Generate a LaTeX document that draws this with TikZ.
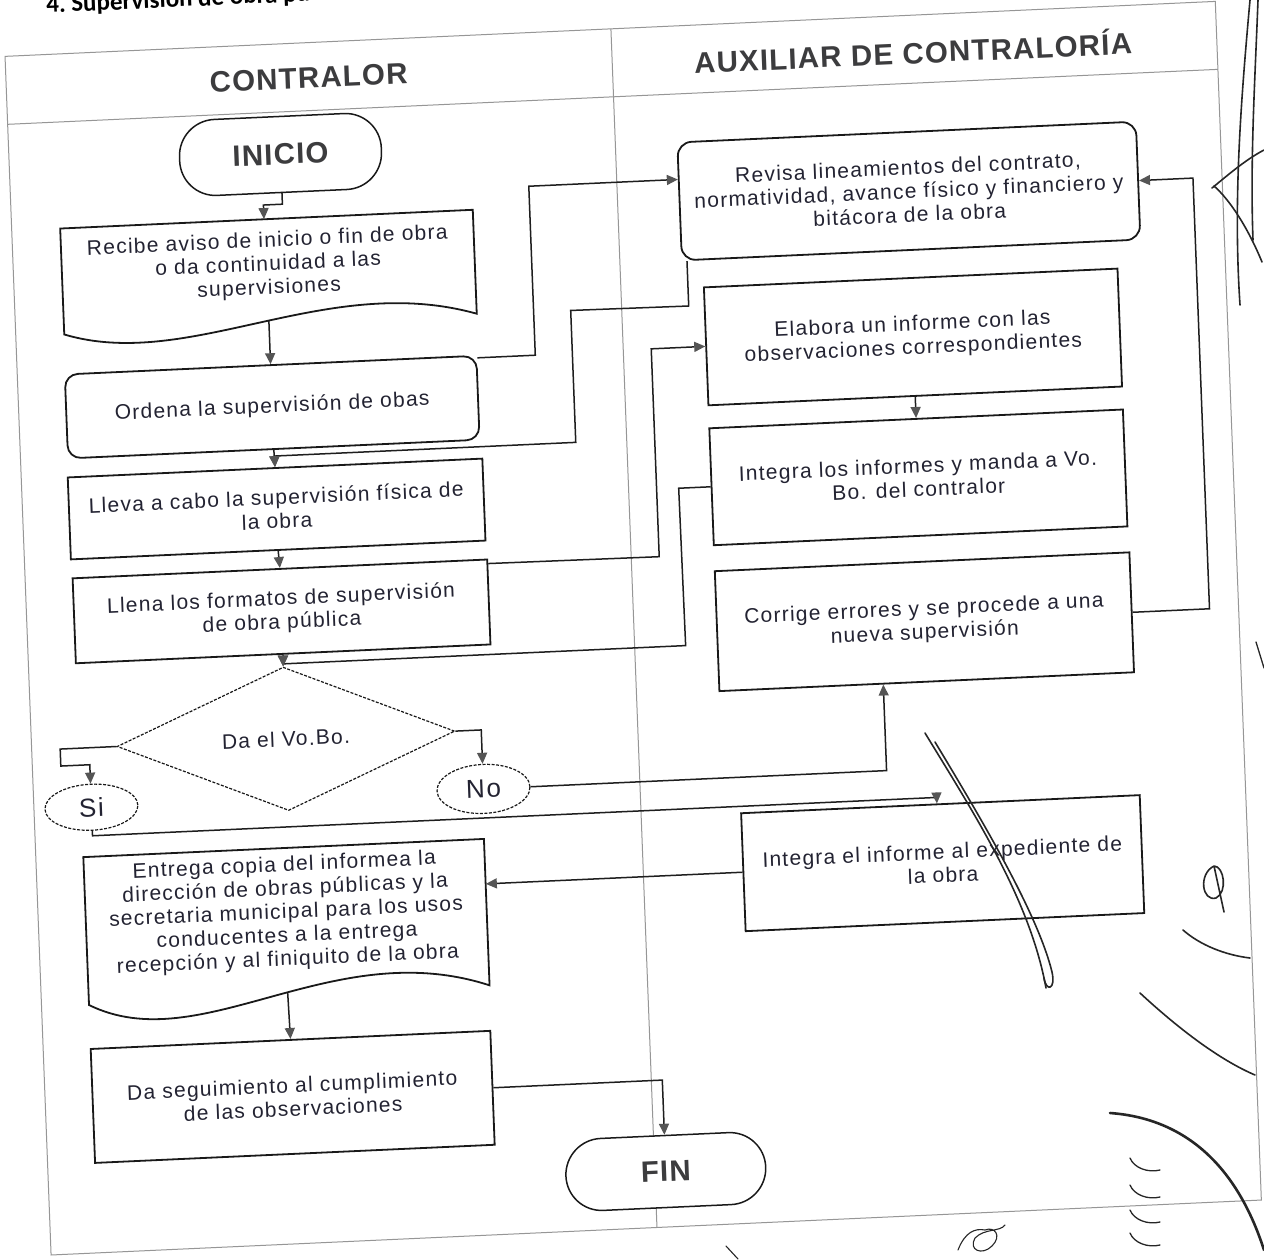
\documentclass[tikz,border=0pt]{standalone}
\usepackage{fontspec}
\setmainfont{Liberation Sans}
\newfontfamily\bodyfont[LetterSpace=6]{Liberation Sans}
\newfontfamily\headfont[LetterSpace=4]{Liberation Sans}
\newfontfamily\titlefont{Carlito}
\usetikzlibrary{shapes.geometric,arrows.meta,calc}

\definecolor{txt}{RGB}{35,35,50}
\definecolor{head}{RGB}{60,60,62}
\definecolor{boxline}{RGB}{25,25,25}
\definecolor{lineclr}{RGB}{30,30,30}
\definecolor{arrowclr}{RGB}{85,85,85}
\definecolor{lanegray}{RGB}{150,150,150}

\tikzset{
  body/.style={font=\bodyfont\fontsize{21}{23.6}\selectfont, text=txt},
  box/.style={rectangle, draw=boxline, line width=1.8pt, fill=white, inner sep=0pt, align=center, body},
  rbox/.style={box, rounded corners=13pt},
  term/.style={box, rounded corners=36pt, line width=1.5pt, text=head,
               font=\headfont\bfseries\fontsize{29.5}{32}\selectfont},
  decision/.style={diamond, draw=boxline, line width=1.2pt, dash pattern=on 3pt off 1.5pt,
                   fill=white, inner sep=0pt, align=center, body},
  answer/.style={ellipse, draw=boxline, line width=1.2pt, dash pattern=on 3pt off 1.5pt,
                 fill=white, inner sep=0pt, text=txt, font=\bodyfont\fontsize{26}{28}\selectfont},
  doctext/.style={inner sep=0pt, align=center, body},
  docshape/.style={draw=boxline, line width=1.8pt, fill=white},
  lanehead/.style={text=head, font=\headfont\bfseries\fontsize{29.5}{32}\selectfont},
  lane/.style={draw=lanegray, line width=1pt},
  conn/.style={draw=lineclr, line width=1.5pt, line join=miter,
               -{Triangle[length=11pt,width=10pt,fill=arrowclr,color=arrowclr]}},
  scrib/.style={draw=black!85, line width=1.6pt, line cap=round, line join=round},
}

\begin{document}
\begin{tikzpicture}[x=1pt,y=-1pt]
\useasboundingbox[fill=white] (0,0) rectangle (1264,1259);

\begin{scope}[cm={0.998971,0.045363,-0.038388,0.999263,(-23.53pt,-29.13pt)}, transform shape]

% page heading
\node[anchor=base west, inner sep=0pt, text=black,
      font=\titlefont\bfseries\fontsize{25}{28}\selectfont] (title) at (70.6,-13)
      {4.\ Supervisión de obra pública};

% swimlanes
\draw[lane] (27.5,28.5) rectangle (1239,1228);
\draw[lane] (27.5,96.5) -- (1239,96.5);
\draw[lane] (634,28.5) -- (634,1228);
\node[lanehead] (laneA) at (330,64) {CONTRALOR};
\node[lanehead] (laneB) at (935,64) {AUXILIAR DE CONTRALORÍA};

% document shapes (wavy bottom)
\draw[docshape] (76,203) -- (489,203) -- (489,307)
   .. controls (340,258) and (200,352) .. (76,309) -- cycle;
\draw[docshape] (75,832) -- (476,832) -- (476,978.5)
   .. controls (320,920) and (185,1040) .. (75,980) -- cycle;

% nodes: CONTRALOR lane
\node[term, minimum width=202pt, minimum height=76pt] (inicio) at (299,139) {INICIO};
\node[doctext, minimum width=413pt, minimum height=92pt] (recibe) at (282.5,249)
  {Recibe aviso de inicio o fin de obra\\o da continuidad a las\\supervisiones};
\coordinate (recibeW) at (281,305);
\node[rbox, minimum width=412pt, minimum height=84pt] (ordena) at (281,391)
  {Ordena la supervisión de obas};
\node[box, minimum width=415pt, minimum height=82pt] (lleva) at (281.5,493)
  {Lleva a cabo la supervisión física de\\la obra};
\node[box, minimum width=415pt, minimum height=85pt] (llena) at (282.5,595.5)
  {Llena los formatos de supervisión\\de obra pública};
\node[decision, minimum width=338pt, minimum height=137pt] (dec) at (282,723) {Da el Vo.Bo.};
\node[answer, minimum width=93pt, minimum height=46pt] (si) at (85,782.5) {Si};
\node[answer, minimum width=93pt, minimum height=49pt] (no) at (477.5,782) {No};
\node[doctext, minimum width=401pt, minimum height=128pt] (entrega) at (275.5,897)
  {Entrega copia del informea la\\dirección de obras públicas y la\\secretaria municipal para los usos\\conducentes a la entrega\\recepción y al finiquito de la obra};
\coordinate (entregaW) at (274,977);
\node[box, minimum width=400pt, minimum height=114pt] (daseg) at (275,1081)
  {Da seguimiento al cumplimiento\\de las observaciones};
\node[term, minimum width=200pt, minimum height=72pt] (fin) at (645,1172.5) {FIN};

% nodes: AUXILIAR lane
\node[rbox, rounded corners=14pt, minimum width=459pt, minimum height=118pt] (revisa) at (925.5,204)
  {Revisa lineamientos del contrato,\\normatividad, avance físico y financiero y\\bitácora de la obra};
\node[box, minimum width=414pt, minimum height=118pt] (elabora) at (924,350)
  {Elabora un informe con las\\observaciones correspondientes};
\node[box, minimum width=414pt, minimum height=117pt] (integra) at (924,490.5)
  {Integra los informes y manda a Vo.\\Bo. del contralor};
\node[box, minimum width=415pt, minimum height=120pt] (corrige) at (924.5,635)
  {Corrige errores y se procede a una\\nueva supervisión};
\node[box, minimum width=399pt, minimum height=118pt] (intexp) at (933.5,877)
  {Integra el informe al expediente de\\la obra};

% connectors
\draw[conn] (inicio.south) -- ++(0,11) -| ([xshift=-2.5pt]recibe.north);
\draw[conn] (recibeW) -- (ordena.north);
\draw[conn] (ordena.south) -- (lleva.north);
\draw[conn] ([yshift=-3pt]ordena.north east) -- ++(58,0) |- ([yshift=22pt]revisa.west);
\draw[conn] ([xshift=6pt]revisa.south west) -- ++(0,45) -- (583,308) -- (583,440) -| (lleva.north);
\draw[conn] (lleva.south) -- (llena.north);
\draw[conn] ([yshift=-5pt]llena.north east) -- (662,558) |- (elabora.west);
\draw[conn] (llena.south) -- (dec.north);
\draw[conn] (elabora.south) -- (integra.north);
\draw[conn] (integra.west) -- ++(-32,0) -- (685,648) -| (dec.north);
\draw[conn] (dec.west) -- (56,723) -- (56,740) -| (si.north);
\draw[conn] (dec.east) -| (no.north);
\draw[conn] (no.east) -| ([xshift=-43.5pt]corrige.south);
\draw[conn] (corrige.east) -- ++(77,0) |- (revisa.east);
\draw[conn] (si.south) -- ++(0,5) -| ([xshift=-3.5pt]intexp.north);
\draw[conn] (intexp.west) -- (intexp.west -| entrega.east);
\draw[conn] (entregaW) -- (daseg.north);
\draw[conn] (daseg.east) -| (fin.north);
\end{scope}

% pen strokes added by hand on the sheet
\draw[scrib] (1250,0) .. controls (1241,100) and (1233,200) .. (1240,305);
\draw[scrib] (1258,0) .. controls (1255,80) and (1250,160) .. (1253,240);
\draw[scrib] (1212,188) .. controls (1228,175) and (1245,160) .. (1264,150);
\draw[scrib] (1214,186) .. controls (1230,200) and (1248,228) .. (1262,262);
\draw[scrib] (925,733) .. controls (975,815) and (1030,900) .. (1046,988);
\draw[scrib] (935,742) .. controls (985,825) and (1038,915) .. (1052,972)
            .. controls (1056,990) and (1046,992) .. (1044,978);
\draw[scrib] (1214,866) .. controls (1198,874) and (1202,902) .. (1216,898)
            .. controls (1228,892) and (1224,866) .. (1214,866) -- (1224,912);
\draw[scrib] (1183,930) .. controls (1200,945) and (1225,955) .. (1250,958);
\draw[scrib] (1140,993) .. controls (1180,1030) and (1220,1060) .. (1255,1075);
\draw[scrib, line width=2.6pt] (1110,1113) .. controls (1180,1118) and (1235,1160) .. (1264,1250);
\foreach \yy in {1158,1185,1210,1233}
  \draw[scrib, line width=1.3pt] (1130,\yy) .. controls (1134,\yy+10) and (1148,\yy+15) .. (1160,\yy+12);
\draw[scrib, line width=1.1pt] (958,1250) .. controls (965,1232) and (975,1228) .. (985,1230)
   .. controls (995,1226) and (1002,1236) .. (992,1246) .. controls (982,1256) and (968,1250) .. (975,1238)
   .. controls (985,1228) and (1000,1232) .. (1005,1225);
\draw[scrib, line width=1.1pt] (726,1246) -- (738,1259);
\draw[scrib, line width=1.3pt] (1256,642) -- (1264,668);
\end{tikzpicture}
\end{document}
